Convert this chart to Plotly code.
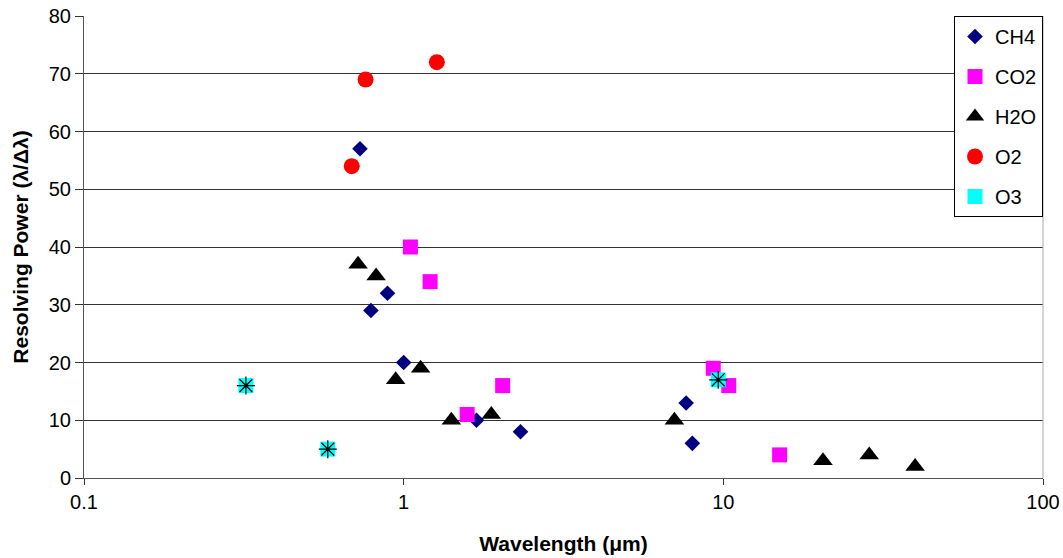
import plotly.graph_objects as go

ch4_x = [0.73, 0.89, 0.79, 1.0, 1.69, 2.32, 7.65, 8.0]
ch4_y = [57, 32, 29, 20, 10, 8, 13, 6]
co2_x = [1.05, 1.21, 1.58, 2.04, 9.3, 10.4, 15.0]
co2_y = [40, 34, 11, 16, 19, 16, 4]
h2o_x = [0.72, 0.82, 0.944, 1.13, 1.41, 1.88, 7.03, 20.5, 28.6, 39.8]
h2o_y = [37, 35, 17, 19, 10, 11, 10, 3, 4, 2]
o2_x = [0.688, 0.76, 1.27]
o2_y = [54, 69, 72]
o3_x = [0.321, 0.579, 9.64]
o3_y = [16, 5, 17]

FONT = "Liberation Sans, Arial, sans-serif"

fig = go.Figure()
fig.add_trace(go.Scatter(x=ch4_x, y=ch4_y, mode="markers", name="CH4", legendgroup="a",
                         marker=dict(symbol="diamond", size=12, color="#000080")))
fig.add_trace(go.Scatter(x=co2_x, y=co2_y, mode="markers", name="CO2", legendgroup="b",
                         marker=dict(symbol="square", size=15, color="#FF00FF")))
fig.add_trace(go.Scatter(x=h2o_x, y=h2o_y, mode="markers", name="H2O", legendgroup="c",
                         marker=dict(symbol="triangle-up", size=17, color="#000000")))
fig.add_trace(go.Scatter(x=o2_x, y=o2_y, mode="markers", name="O2", legendgroup="d",
                         marker=dict(symbol="circle", size=16, color="#FF0000")))
fig.add_trace(go.Scatter(x=o3_x, y=o3_y, mode="markers", name="O3", legendgroup="e",
                         marker=dict(symbol="square", size=15, color="#00FFFF")))
fig.add_trace(go.Scatter(x=o3_x, y=o3_y, mode="markers", name="O3", legendgroup="e", showlegend=False,
                         marker=dict(symbol="asterisk-open", size=15, color="#000000",
                                     line=dict(color="#000000", width=1.2))))

fig.update_layout(
    width=1063, height=558,
    margin=dict(l=84, r=20, t=16, b=80),
    paper_bgcolor="white", plot_bgcolor="white",
    font=dict(family=FONT, size=20, color="black"),
    showlegend=True,
    legend=dict(x=1, y=1, xanchor="right", yanchor="top",
                bordercolor="black", borderwidth=1, bgcolor="white",
                font=dict(family=FONT, size=20, color="black"),
                tracegroupgap=11, itemwidth=30, entrywidth=88, entrywidthmode="pixels"),
    xaxis=dict(type="log", range=[-1, 2], tickvals=[0.1, 1, 10, 100],
               ticktext=["0.1", "1", "10", "100"], ticks="outside", ticklen=6,
               tickcolor="#333", showline=True, linecolor="#555", linewidth=1,
               showgrid=False, zeroline=False, mirror=False, automargin=False,
               ticklabeloverflow="allow", tickfont=dict(size=20),
               title=dict(text="<b>Wavelength (μm)</b>", font=dict(size=21), standoff=24)),
    yaxis=dict(range=[0, 80], dtick=10, ticks="outside", ticklen=8, tickcolor="#333",
               showline=True, linecolor="#555", linewidth=1, automargin=False,
               showgrid=True, gridcolor="#333", gridwidth=1, zeroline=False,
               ticklabeloverflow="allow", tickfont=dict(size=20),
               title=dict(text="<b>Resolving Power (λ/Δλ)</b>", font=dict(size=21), standoff=14)),
)
fig.add_shape(type="line", xref="paper", yref="paper", x0=1, x1=1, y0=0, y1=1,
              line=dict(color="#aaa", width=1))

fig.write_html("out.html", config={"displayModeBar": False},
               post_script="document.body.style.margin='0';document.body.style.overflow='hidden';")
